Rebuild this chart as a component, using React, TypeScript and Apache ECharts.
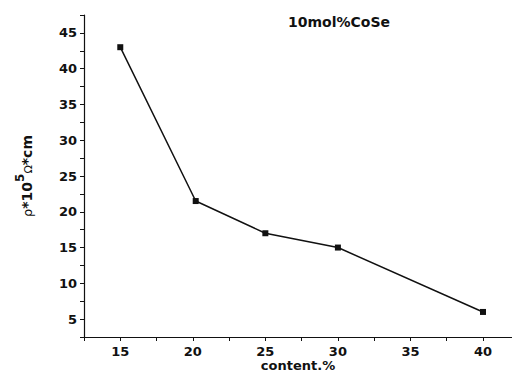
import React, { useEffect, useRef } from "react";
import * as echarts from "echarts";

const contentPct = [15, 20.2, 25, 30, 40];
const resistivity = [43, 21.5, 17, 15, 6];
const titleText = "10mol%CoSe";
const xName = "content.%";

const FONT = "DejaVu Sans";

export default function App() {
  const ref = useRef<HTMLDivElement>(null);
  useEffect(() => {
    if (!ref.current) return;
    const chart = echarts.init(ref.current, undefined, { renderer: "svg" });
    const fmt = (v: number) => (Math.abs(Number(v) % 5) < 1e-9 ? String(v) : "");
    const common = { color: "#111", fontFamily: FONT, fontWeight: "bold" as const, fontSize: 13 };
    const points = contentPct.map((x, i) => [x, resistivity[i]]);
    chart.setOption({
      animation: false,
      backgroundColor: "#fff",
      title: {
        text: titleText,
        left: 288,
        top: 15,
        padding: 0,
        textStyle: { ...common, fontSize: 14 },
      },
      grid: { left: 84, right: 0, top: 15, bottom: 37, containLabel: false, outerBoundsMode: "none" },
      xAxis: {
        type: "value",
        min: 12.5,
        max: 42,
        interval: 2.5,
        axisLine: { lineStyle: { color: "#111", width: 1.2 } },
        axisTick: { inside: false, length: 4, lineStyle: { color: "#111" } },
        axisLabel: { ...common, lineHeight: 14, margin: 7, formatter: fmt, showMinLabel: true, showMaxLabel: true, hideOverlap: false },
        splitLine: { show: false },
        name: xName,
        nameLocation: "middle",
        nameGap: 22,
        nameMoveOverlap: false,
        nameTextStyle: { ...common, lineHeight: 13 },
      },
      yAxis: {
        type: "value",
        min: 2.5,
        max: 47.5,
        interval: 2.5,
        axisLine: { show: true, lineStyle: { color: "#111", width: 1.2 } },
        axisTick: { show: true, inside: false, length: 4, lineStyle: { color: "#111" } },
        axisLabel: { ...common, margin: 7, formatter: fmt, hideOverlap: false },
        splitLine: { show: false },
        name: "{r|ρ}{b|*10}{s|5}{o|Ω}{b|*cm}",
        nameLocation: "middle",
        nameGap: 50,
        nameMoveOverlap: false,
        nameRotate: 90,
        nameTextStyle: {
          padding: [0, 0, 0, 0],
          rich: {
            r: { fontFamily: FONT, fontSize: 13, color: "#111", verticalAlign: "bottom" },
            b: { fontFamily: FONT, fontSize: 14, fontWeight: "bold", color: "#111", verticalAlign: "bottom" },
            s: { fontFamily: FONT, fontSize: 12, fontWeight: "bold", color: "#111", verticalAlign: "top", padding: [0, 0, 8, 0] },
            o: { fontFamily: FONT, fontSize: 11, color: "#111", verticalAlign: "bottom" },
          },
        },
      },
      series: [
        {
          type: "line",
          data: points,
          symbol: "rect",
          symbolSize: 6,
          itemStyle: { color: "#111" },
          lineStyle: { color: "#111", width: 1.5 },
        },
      ],
    });
    return () => chart.dispose();
  }, []);
  return <div ref={ref} style={{ width: 512, height: 374, position: "absolute", left: 0, top: 0 }} />;
}
